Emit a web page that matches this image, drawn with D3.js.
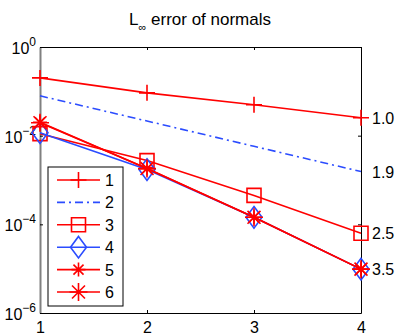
<!DOCTYPE html>
<html>
<head>
<meta charset="utf-8">
<script src="https://cdn.jsdelivr.net/npm/d3@7"></script>
<style>
  body { margin: 0; background: #fff; }
  text { font-family: "Liberation Sans", Arial, sans-serif; fill: #000; }
</style>
</head>
<body>
<div id="chart-area"></div>
<script>
// Data
// ****
const levels = [1, 2, 3, 4]
const err1 = [0.201, 0.0925, 0.0497, 0.0254]
const err2 = [0.0792, 0.0214, 0.00575, 0.00155]
const err3 = [0.0111, 0.00274, 0.000449, 0.0000628]
const err4 = [0.0117, 0.00172, 0.000144, 0.00000975]
const err5 = [0.0200, 0.00181, 0.000144, 0.00000975]
const err6 = [0.0196, 0.00181, 0.000144, 0.00000975]
const seriesNames = ["1", "2", "3", "4", "5", "6"]
const rateLabels = ["1.0", "1.9", "2.5", "3.5"]
const yTicks = [1, 1e-2, 1e-4, 1e-6]
const yTickExp = ["0", "\u22122", "\u22124", "\u22126"]

// Config
// ******
const margin = {top: 47, right: 46, bottom: 23, left: 40}
const W = 407, H = 336
const width = W - margin.left - margin.right
const height = H - margin.top - margin.bottom
const red = "#ff0000", blue = "#2b4cff"

const series = [
  {name: seriesNames[0], values: err1, color: red, marker: "plus", dash: null, size: 8},
  {name: seriesNames[1], values: err2, color: blue, marker: null, dash: "8,4,2,4", size: 0},
  {name: seriesNames[2], values: err3, color: red, marker: "square", dash: null, size: 7},
  {name: seriesNames[3], values: err4, color: blue, marker: "diamond", dash: null, size: 8},
  {name: seriesNames[4], values: err5, color: red, marker: "star", dash: null, size: 7},
  {name: seriesNames[5], values: err6, color: red, marker: "star", dash: null, size: 9}
]

// Create SVG Canvas
// *****************
const svg = d3.select("#chart-area")
  .append("svg")
    .attr("width", W)
    .attr("height", H)
const g = svg.append("g")
    .attr("transform", "translate(" + margin.left + ", " + margin.top + ")")

const x = d3.scaleLinear().domain([1, 4]).range([0, width])
const y = d3.scaleLog().domain([1e-6, 1]).range([height, 0])

// Axes
// ****
const bottomAxis = g.append("g")
  .attr("transform", "translate(0, " + height + ")")
  .call(d3.axisBottom(x).tickValues(levels).tickSize(-3).tickSizeOuter(0).tickFormat(d3.format("d")))
bottomAxis.selectAll("text").attr("y", 20).attr("dy", null).style("font-size", "16px")

g.append("g")
  .call(d3.axisTop(x).tickValues(levels).tickSize(-3).tickSizeOuter(0).tickFormat(""))

g.append("g")
  .attr("transform", "translate(" + width + ", 0)")
  .call(d3.axisRight(y).tickValues(yTicks).tickSize(-3).tickSizeOuter(0).tickFormat(""))

const leftAxis = g.append("g")
  .call(d3.axisLeft(y).tickValues(yTicks).tickSize(-3).tickSizeOuter(0).tickFormat(""))
leftAxis.select(".domain").attr("stroke", "#808080").attr("stroke-width", 2)

g.selectAll(".tick text").style("font-family", "'Liberation Sans', Arial, sans-serif")

// Left labels as powers of ten
const yLab = g.append("g")
yTicks.forEach((t, i) => {
  const txt = yLab.append("text")
    .attr("x", -4)
    .attr("y", y(t) + 7)
    .attr("text-anchor", "end")
    .style("font-size", "16px")
  txt.append("tspan").text("10")
  txt.append("tspan").attr("dy", -8).style("font-size", "12px").text(yTickExp[i])
})

// Title
// *****
const title = svg.append("text")
  .attr("x", 200)
  .attr("y", 25)
  .attr("text-anchor", "middle")
  .style("font-size", "17px")
title.append("tspan").text("L")
title.append("tspan").attr("dy", 6).style("font-size", "11px").text("\u221e")
title.append("tspan").attr("dy", -6).text(" error of normals")

// Markers
// *******
function markerPath(type, r) {
  if (type === "plus") return `M${-r},0H${r}M0,${-r}V${r}`
  if (type === "square") return `M${-r},${-r}H${r}V${r}H${-r}Z`
  if (type === "diamond") return `M0,${-r * 1.35}L${r},0L0,${r * 1.35}L${-r},0Z`
  if (type === "star") {
    const a = r * 0.72
    return `M${-r},0H${r}M0,${-r}V${r}M${-a},${-a}L${a},${a}M${-a},${a}L${a},${-a}`
  }
  return ""
}

// Lines
// *****
const line = d3.line().x((d, i) => x(levels[i])).y(d => y(d))

series.forEach(s => {
  g.append("path")
    .datum(s.values)
    .attr("fill", "none")
    .attr("stroke", s.color)
    .attr("stroke-width", 1.6)
    .attr("stroke-dasharray", s.dash)
    .attr("d", line)

  if (s.marker) {
    g.selectAll(null).data(s.values).enter()
      .append("path")
      .attr("transform", (d, i) => "translate(" + x(levels[i]) + ", " + y(d) + ")")
      .attr("d", markerPath(s.marker, s.size))
      .attr("fill", "none")
      .attr("stroke", s.color)
      .attr("stroke-width", 1.6)
  }
})

// Rate labels next to last points
// *******************************
const last = levels.length - 1
rateLabels.forEach((lab, i) => {
  g.append("text")
    .attr("x", x(levels[last]) + 11)
    .attr("y", y(series[i].values[last]) + 6)
    .style("font-size", "16px")
    .text(lab)
})

// Legend
// ******
const leg = g.append("g").attr("transform", "translate(8, 120)")
leg.append("rect")
  .attr("width", 75)
  .attr("height", 139)
  .attr("fill", "#fff")
  .attr("stroke", "#000")
  .attr("stroke-width", 1)

series.forEach((s, i) => {
  const row = leg.append("g").attr("transform", "translate(0, " + (13 + i * 22.4) + ")")
  row.append("line")
    .attr("x1", 9).attr("x2", 52)
    .attr("stroke", s.color)
    .attr("stroke-width", 1.6)
    .attr("stroke-dasharray", s.dash)
  if (s.marker) {
    row.append("path")
      .attr("transform", "translate(30.5, 0)")
      .attr("d", markerPath(s.marker, s.size))
      .attr("fill", "none")
      .attr("stroke", s.color)
      .attr("stroke-width", 1.6)
  }
  row.append("text")
    .attr("x", 57)
    .attr("y", 6)
    .style("font-size", "16px")
    .text(s.name)
})
</script>
</body>
</html>
